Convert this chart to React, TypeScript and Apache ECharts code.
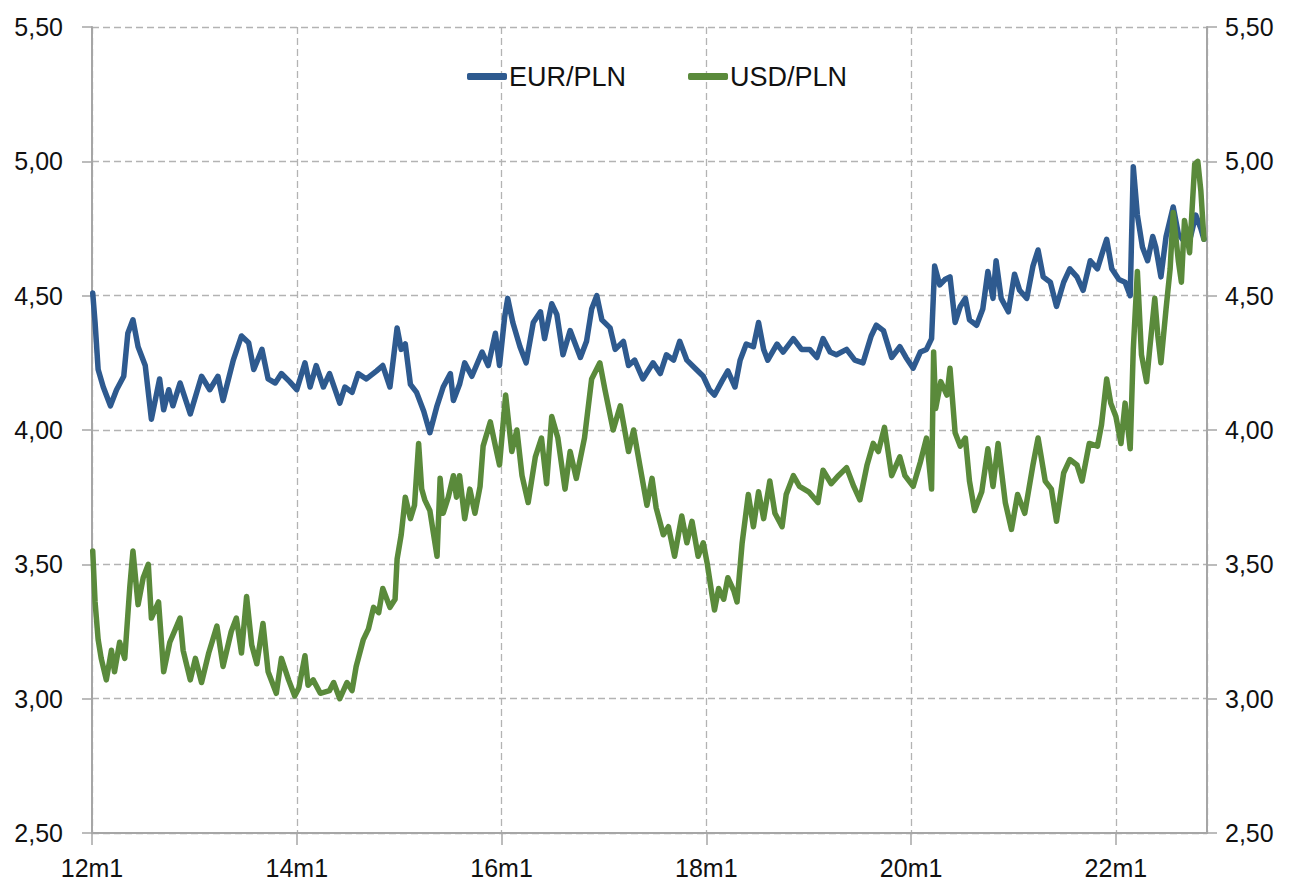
import React, { useEffect, useRef } from "react";
import * as echarts from "echarts";

const seriesNames = ["EUR/PLN", "USD/PLN"];

const eurDates = [
  2012.007, 2012.03, 2012.06, 2012.11, 2012.18, 2012.24, 2012.31, 2012.35, 2012.4, 2012.45,
  2012.52, 2012.58, 2012.66, 2012.7, 2012.75, 2012.79, 2012.86, 2012.96, 2013.07, 2013.15,
  2013.23, 2013.28, 2013.38, 2013.46, 2013.53, 2013.58, 2013.66, 2013.72, 2013.79, 2013.85,
  2013.93, 2014.0, 2014.08, 2014.13, 2014.19, 2014.26, 2014.32, 2014.42, 2014.47, 2014.54,
  2014.6, 2014.68, 2014.78, 2014.84, 2014.91, 2014.98, 2015.02, 2015.06, 2015.11, 2015.17,
  2015.24, 2015.3, 2015.37, 2015.43, 2015.5, 2015.53, 2015.59, 2015.64, 2015.71, 2015.81,
  2015.87, 2015.94, 2015.98, 2016.03, 2016.06, 2016.11, 2016.18, 2016.24, 2016.31, 2016.38,
  2016.42, 2016.49, 2016.54, 2016.6, 2016.67, 2016.77, 2016.83, 2016.88, 2016.93, 2016.98,
  2017.06, 2017.11, 2017.19, 2017.24, 2017.3, 2017.38, 2017.48, 2017.55, 2017.61, 2017.68,
  2017.74, 2017.81, 2017.89, 2017.97, 2018.03, 2018.08, 2018.15, 2018.21, 2018.28, 2018.33,
  2018.39, 2018.46, 2018.51, 2018.56, 2018.6, 2018.69, 2018.75, 2018.85, 2018.93, 2019.01,
  2019.08, 2019.14, 2019.21, 2019.27, 2019.37, 2019.45, 2019.53, 2019.61, 2019.66, 2019.73,
  2019.81, 2019.89, 2019.95, 2020.02, 2020.09, 2020.15, 2020.2, 2020.23, 2020.28, 2020.33,
  2020.38, 2020.43, 2020.48, 2020.53, 2020.57, 2020.64, 2020.7, 2020.75, 2020.8, 2020.83,
  2020.88, 2020.95, 2021.01, 2021.06, 2021.13, 2021.19, 2021.24, 2021.29, 2021.36, 2021.42,
  2021.49, 2021.55, 2021.62, 2021.68, 2021.75, 2021.82, 2021.86, 2021.91, 2021.96, 2022.03,
  2022.09, 2022.14, 2022.17, 2022.21, 2022.26, 2022.31, 2022.36, 2022.39, 2022.44, 2022.49,
  2022.56, 2022.61, 2022.67, 2022.73, 2022.78, 2022.83, 2022.86,
];
const eurValues = [
  4.51, 4.4, 4.225, 4.16, 4.09, 4.15, 4.2, 4.36, 4.41, 4.31,
  4.24, 4.04, 4.19, 4.075, 4.15, 4.09, 4.175, 4.06, 4.2, 4.15,
  4.2, 4.11, 4.26, 4.35, 4.325, 4.225, 4.3, 4.19, 4.175, 4.21,
  4.18, 4.15, 4.25, 4.16, 4.24, 4.16, 4.21, 4.1, 4.16, 4.14,
  4.21, 4.19, 4.22, 4.24, 4.16, 4.38, 4.3, 4.32, 4.17, 4.14,
  4.07, 3.99, 4.09, 4.16, 4.21, 4.11, 4.17, 4.25, 4.2, 4.29,
  4.24, 4.36, 4.24, 4.42, 4.49, 4.4, 4.31, 4.25, 4.4, 4.44,
  4.34, 4.47, 4.43, 4.28, 4.37, 4.27, 4.33, 4.45, 4.5, 4.41,
  4.38, 4.3, 4.33, 4.24, 4.26, 4.19, 4.25, 4.21, 4.28, 4.26,
  4.33, 4.26, 4.23, 4.2, 4.15, 4.13, 4.18, 4.22, 4.16, 4.26,
  4.32, 4.31, 4.4, 4.3, 4.26, 4.32, 4.29, 4.34, 4.3, 4.3,
  4.27, 4.34, 4.29, 4.28, 4.3, 4.26, 4.25, 4.35, 4.39, 4.37,
  4.27, 4.31, 4.27, 4.23, 4.29, 4.3, 4.34, 4.61, 4.54, 4.56,
  4.57, 4.4, 4.46, 4.49, 4.41, 4.39, 4.45, 4.59, 4.49, 4.63,
  4.49, 4.44, 4.58, 4.52, 4.49, 4.61, 4.67, 4.57, 4.55, 4.46,
  4.55, 4.6, 4.57, 4.52, 4.63, 4.6, 4.65, 4.71, 4.6, 4.56,
  4.55, 4.5, 4.98, 4.8, 4.68, 4.63, 4.72, 4.68, 4.57, 4.72,
  4.83, 4.73, 4.7, 4.72, 4.8, 4.75, 4.71,
];

const usdDates = [
  2012.007, 2012.03, 2012.06, 2012.09, 2012.14, 2012.19, 2012.22, 2012.27, 2012.32, 2012.37,
  2012.4, 2012.45, 2012.5, 2012.55, 2012.58, 2012.65, 2012.7, 2012.76, 2012.86, 2012.89,
  2012.96, 2013.01, 2013.07, 2013.14, 2013.22, 2013.28, 2013.36, 2013.41, 2013.46, 2013.51,
  2013.56, 2013.61, 2013.67, 2013.72, 2013.8, 2013.85, 2013.92, 2013.98, 2014.02, 2014.08,
  2014.11, 2014.16, 2014.23, 2014.32, 2014.36, 2014.42, 2014.49, 2014.54, 2014.58, 2014.65,
  2014.7, 2014.75, 2014.8, 2014.84, 2014.91, 2014.96, 2014.98, 2015.02, 2015.06, 2015.11,
  2015.15, 2015.19, 2015.22, 2015.25, 2015.3, 2015.37, 2015.4, 2015.43, 2015.48, 2015.53,
  2015.56, 2015.59, 2015.64, 2015.69, 2015.74, 2015.79, 2015.82, 2015.89, 2015.94, 2015.98,
  2016.04, 2016.1, 2016.15, 2016.2, 2016.26, 2016.33, 2016.39, 2016.44, 2016.49, 2016.55,
  2016.62, 2016.67, 2016.73, 2016.81, 2016.88, 2016.96, 2017.01, 2017.09, 2017.16, 2017.24,
  2017.29, 2017.35, 2017.42, 2017.47, 2017.51, 2017.58, 2017.63, 2017.69, 2017.76, 2017.81,
  2017.86, 2017.92, 2017.97, 2018.01, 2018.05, 2018.08, 2018.12, 2018.17, 2018.21, 2018.27,
  2018.3, 2018.35, 2018.41, 2018.46, 2018.51, 2018.56, 2018.62, 2018.67, 2018.74, 2018.78,
  2018.85, 2018.91, 2019.0, 2019.09, 2019.14, 2019.22, 2019.29, 2019.37, 2019.44, 2019.5,
  2019.57, 2019.63, 2019.68, 2019.74, 2019.81, 2019.89, 2019.94, 2020.02, 2020.09, 2020.15,
  2020.2, 2020.22, 2020.24, 2020.29, 2020.35, 2020.38, 2020.43, 2020.48, 2020.53, 2020.57,
  2020.62, 2020.69, 2020.75, 2020.8, 2020.85, 2020.92, 2020.98, 2021.04, 2021.11, 2021.19,
  2021.24, 2021.31, 2021.37, 2021.42, 2021.49, 2021.55, 2021.62, 2021.67, 2021.74, 2021.82,
  2021.86, 2021.91, 2021.95, 2022.0, 2022.05, 2022.09, 2022.14, 2022.17, 2022.21, 2022.25,
  2022.3, 2022.33, 2022.38, 2022.41, 2022.44, 2022.49, 2022.53, 2022.56, 2022.61, 2022.64,
  2022.67, 2022.72, 2022.77, 2022.8, 2022.83, 2022.86,
];
const usdValues = [
  3.55, 3.36, 3.22, 3.15, 3.07, 3.18, 3.1, 3.21, 3.15, 3.42,
  3.55, 3.35, 3.45, 3.5, 3.3, 3.36, 3.1, 3.21, 3.3, 3.18,
  3.07, 3.15, 3.06, 3.17, 3.27, 3.12, 3.25, 3.3, 3.17, 3.38,
  3.2, 3.13, 3.28, 3.1, 3.02, 3.15, 3.07, 3.01, 3.04, 3.16,
  3.05, 3.07, 3.02, 3.03, 3.06, 3.0, 3.06, 3.03, 3.12, 3.22,
  3.26, 3.34, 3.32, 3.41, 3.34, 3.37, 3.52, 3.61, 3.75, 3.67,
  3.72, 3.95, 3.78, 3.74, 3.7, 3.53, 3.82, 3.69, 3.75, 3.83,
  3.75, 3.83, 3.67, 3.78, 3.69, 3.79, 3.94, 4.03, 3.94, 3.87,
  4.13, 3.92, 4.0, 3.83, 3.73, 3.9, 3.97, 3.8, 4.05, 3.97,
  3.78, 3.92, 3.82, 3.97, 4.19, 4.25, 4.15, 4.0, 4.09, 3.92,
  4.0, 3.87, 3.72, 3.82, 3.71, 3.61, 3.64, 3.53, 3.68, 3.58,
  3.66, 3.53, 3.58, 3.5, 3.4, 3.33, 3.41, 3.37, 3.45, 3.4,
  3.36, 3.58, 3.76, 3.64, 3.77, 3.67, 3.81, 3.69, 3.64, 3.76,
  3.83, 3.79, 3.77, 3.73, 3.85, 3.8, 3.83, 3.86, 3.79, 3.74,
  3.87, 3.95, 3.92, 4.01, 3.83, 3.9, 3.83, 3.79, 3.88, 3.97,
  3.78, 4.29, 4.08, 4.18, 4.13, 4.23, 3.99, 3.94, 3.97, 3.81,
  3.7, 3.77, 3.93, 3.79, 3.95, 3.73, 3.63, 3.76, 3.69, 3.87,
  3.97, 3.81, 3.78, 3.66, 3.84, 3.89, 3.87, 3.81, 3.95, 3.94,
  4.02, 4.19, 4.1, 4.05, 3.95, 4.1, 3.93, 4.3, 4.59, 4.28,
  4.18, 4.3, 4.49, 4.35, 4.25, 4.45, 4.6, 4.81, 4.63, 4.55,
  4.78, 4.66, 4.99, 5.0, 4.89, 4.71,
];

const yTicks = [2.5, 3.0, 3.5, 4.0, 4.5, 5.0, 5.5];
const xLabelYears = [2012, 2014, 2016, 2018, 2020, 2022];

const FONT = "'Liberation Sans', Arial, sans-serif";
const GRID_COLOR = "#b3b3b3";
const AXIS_COLOR = "#a6a6a6";

export default function App() {
  const ref = useRef<HTMLDivElement>(null);
  useEffect(() => {
    if (!ref.current) return;
    const chart = echarts.init(ref.current, undefined, { renderer: "svg" });
    const fmtY = (v: number) => v.toFixed(2).replace(".", ",");
    const yAxisBase = {
      type: "value",
      min: yTicks[0],
      max: yTicks[yTicks.length - 1],
      interval: 0.5,
      axisLine: { show: true, lineStyle: { color: AXIS_COLOR, width: 2 } },
      axisTick: { show: true, length: 10, lineStyle: { color: AXIS_COLOR, width: 1.5 } },
    };
    chart.setOption({
      animation: false,
      backgroundColor: "#ffffff",
      textStyle: { fontFamily: FONT },
      grid: { left: 92, right: 82, top: 27, bottom: 49, containLabel: false },
      legend: {
        data: seriesNames,
        left: 462,
        top: 58,
        itemWidth: 40,
        itemHeight: 7,
        itemGap: 62,
        icon: "roundRect",
        textStyle: { fontSize: 27, color: "#111", fontFamily: FONT, padding: [0, 0, 0, -3] },
      },
      xAxis: {
        type: "value",
        min: 2012,
        max: 2022.89,
        interval: 2,
        axisLine: { show: true, onZero: false, lineStyle: { color: AXIS_COLOR, width: 2 } },
        axisTick: { show: true, length: 12, lineStyle: { color: AXIS_COLOR, width: 1.5 } },
        axisLabel: {
          showMaxLabel: false,
          margin: 22,
          fontSize: 25,
          color: "#111",
          fontFamily: FONT,
          formatter: (v: number) =>
            xLabelYears.includes(Math.round(v * 1000) / 1000) ? `${v - 2000}m1` : "",
        },
        splitLine: {
          show: true,
          lineStyle: { color: GRID_COLOR, type: [7, 4], width: 1.3 },
        },
      },
      yAxis: [
        {
          ...yAxisBase,
          position: "left",
          axisLabel: { margin: 29, fontSize: 25, color: "#111", fontFamily: FONT, formatter: fmtY },
          splitLine: { show: true, lineStyle: { color: GRID_COLOR, type: [7, 4], width: 1.3 } },
        },
        {
          ...yAxisBase,
          position: "right",
          axisLabel: { margin: 18, fontSize: 25, color: "#111", fontFamily: FONT, formatter: fmtY },
          splitLine: { show: false },
        },
      ],
      series: [
        {
          name: seriesNames[0],
          type: "line",
          yAxisIndex: 0,
          showSymbol: false,
          symbol: "none",
          lineStyle: { color: "#2e5a8f", width: 5.5, join: "round", cap: "round" },
          itemStyle: { color: "#2e5a8f" },
          data: eurDates.map((d, i) => [d, eurValues[i]]),
        },
        {
          name: seriesNames[1],
          type: "line",
          yAxisIndex: 0,
          showSymbol: false,
          symbol: "none",
          lineStyle: { color: "#5a8a3b", width: 5.5, join: "round", cap: "round" },
          itemStyle: { color: "#5a8a3b" },
          data: usdDates.map((d, i) => [d, usdValues[i]]),
        },
      ],
    });
    return () => chart.dispose();
  }, []);
  return <div ref={ref} style={{ width: 1289, height: 882, position: "absolute", left: 0, top: 0 }} />;
}
